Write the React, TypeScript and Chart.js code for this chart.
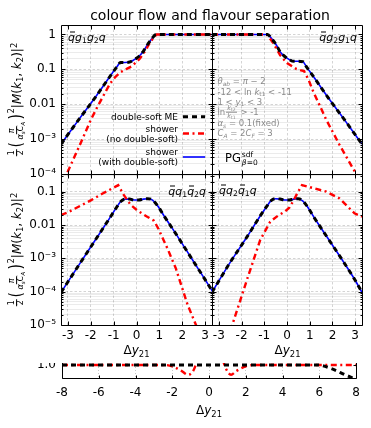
import React, { useEffect, useRef } from 'react';
import { Chart, registerables } from 'chart.js';
Chart.register(...registerables);

const FONT = "'DejaVu Sans', sans-serif";

// ---------- axes ----------
const panelXTicks = [-3, -2, -1, 0, 1, 2, 3];
const panelXMin = -3.3, panelXMax = 3.3;
const topYMajors = [1e-4, 1e-3, 0.01, 0.1, 1];
const topYLabels = ['10⁻⁴', '10⁻³', '0.01', '0.1', '1'];
const topYMin = 1e-4, topYMax = 1.87;
const botYMajors = [1e-5, 1e-4, 1e-3, 0.01, 0.1];
const botYLabels = ['10⁻⁵', '10⁻⁴', '10⁻³', '0.01', '0.1'];
const botYMin = 1e-5, botYMax = 0.34;
const stripXTicks = [-8, -6, -4, -2, 0, 2, 4, 6, 8];
const stripYTicks = [1.0];
const stripYLabels = ['1.0'];

// ---------- data: top-left  q̄ g1 g2 q ----------
const tlX = [-3.3, -2.5, -1.8, -1.2, -0.85, -0.7, -0.5, -0.3, -0.1, 0.1, 0.3, 0.47, 0.65, 0.86, 3.3];
const tlME = [7.2e-4, 3.8e-3, 0.0158, 0.0575, 0.12, 0.158, 0.158, 0.162, 0.19, 0.234, 0.33, 0.5, 0.724, 1, 1];
const tlPG = [7.2e-4, 3.8e-3, 0.0158, 0.0575, 0.12, 0.158, 0.158, 0.162, 0.19, 0.234, 0.33, 0.5, 0.724, 1, 1];
const tlShX = [-3.3, -3.05, -2.5, -2.0, -1.73, -1.5, -1.15, -0.93, -0.7, -0.45, -0.2, 0.15, 0.4, 0.6, 0.8, 0.88, 3.3];
const tlSh = [4.6e-5, 1e-4, 6.3e-4, 3.55e-3, 7.9e-3, 0.0151, 0.0398, 0.0603, 0.083, 0.102, 0.123, 0.204, 0.355, 0.603, 0.89, 1, 1];

// ---------- top-right  q̄ g2 g1 q ----------
const trX = [-3.3, -0.86, -0.65, -0.47, -0.3, -0.1, 0.1, 0.3, 0.5, 0.7, 0.85, 1.2, 1.8, 2.5, 3.3];
const trME = [1, 1, 0.724, 0.5, 0.316, 0.234, 0.19, 0.17, 0.17, 0.166, 0.12, 0.0575, 0.0158, 3.8e-3, 7.2e-4];
const trPG = [1, 1, 0.724, 0.5, 0.316, 0.234, 0.19, 0.17, 0.17, 0.166, 0.12, 0.0575, 0.0158, 3.8e-3, 7.2e-4];
const trShX = [-3.3, -0.88, -0.6, -0.3, 0, 0.42, 0.75, 0.95, 1.15, 1.45, 1.73, 2.3, 2.9, 3.05, 3.3];
const trSh = [1, 1, 0.562, 0.251, 0.151, 0.102, 0.089, 0.05, 0.0234, 8.9e-3, 3.55e-3, 7.1e-4, 1.45e-4, 1e-4, 5e-5];

// ---------- bottom-left  q̄ q1 q̄2 q ----------
const blX = [-3.3, -2.5, -1.8, -1.2, -0.9, -0.7, -0.5, -0.3, -0.1, 0.1, 0.3, 0.5, 0.7, 0.9, 1.2, 1.8, 2.5, 3.0, 3.33];
const blME = [9.5e-5, 6.6e-4, 3.55e-3, 0.0151, 0.0316, 0.05, 0.06, 0.06, 0.0562, 0.0562, 0.06, 0.0617, 0.0562, 0.0398, 0.019, 4.5e-3, 7.9e-4, 2.3e-4, 1e-4];
const blPG = [9.5e-5, 6.6e-4, 3.55e-3, 0.0151, 0.0316, 0.05, 0.06, 0.06, 0.0562, 0.0562, 0.06, 0.0617, 0.0562, 0.0398, 0.019, 4.5e-3, 7.9e-4, 2.3e-4, 1e-4];
const blShX = [-3.3, -3.0, -2.0, -1.5, -1.0, -0.8, -0.55, -0.25, 0.05, 0.45, 0.76, 0.95, 1.35, 1.72, 2.23, 2.6, 2.9];
const blSh = [0.02, 0.024, 0.055, 0.087, 0.132, 0.158, 0.079, 0.04, 0.027, 0.018, 0.0135, 7.9e-3, 2e-3, 5e-4, 4.1e-5, 1e-5, 3.2e-6];

// ---------- bottom-right  q̄ q2 q̄1 q ----------
const brX = [-3.3, -2.5, -1.8, -1.2, -0.9, -0.7, -0.5, -0.3, -0.1, 0.1, 0.3, 0.5, 0.7, 0.9, 1.2, 1.8, 2.5, 3.0, 3.3];
const brME = [9.6e-5, 7.6e-4, 4e-3, 0.0178, 0.0355, 0.054, 0.0617, 0.06, 0.0562, 0.0562, 0.06, 0.0617, 0.0525, 0.0355, 0.0166, 4e-3, 7.6e-4, 2.2e-4, 9.5e-5];
const brPG = [9.6e-5, 7.6e-4, 4e-3, 0.0178, 0.0355, 0.054, 0.0617, 0.06, 0.0562, 0.0562, 0.06, 0.0617, 0.0525, 0.0355, 0.0166, 4e-3, 7.6e-4, 2.2e-4, 9.5e-5];
const brShX = [-2.7, -2.41, -1.76, -1.18, -0.9, -0.74, -0.4, -0.1, 0.1, 0.3, 0.45, 0.66, 1.2, 1.73, 2.31, 2.97, 3.3];
const brSh = [2.5e-6, 1e-5, 2.3e-4, 3.55e-3, 7.9e-3, 0.0126, 0.019, 0.0251, 0.0331, 0.0562, 0.089, 0.158, 0.126, 0.1, 0.063, 0.0224, 0.0178];

// ---------- strip (ratio) ----------
const stripMEX = [-8, -4, 0, 4, 5.9, 6.7, 7.4, 8];
const stripME = [1, 1, 1, 1, 1, 0.97, 0.925, 0.89];
const stripShX = [-8, -2.4, -2.0, -1.5, -1.15, -0.75, -0.5, 0.5, 0.88, 1.2, 1.5, 2.0, 2.4, 8];
const stripSh = [1, 1, 0.99, 0.955, 0.925, 0.99, 1.15, 1.15, 0.985, 0.925, 0.955, 0.99, 1, 1];

// ---------- helpers ----------
const pts = (xs: number[], ys: number[]) => xs.map((x, i) => ({ x, y: ys[i] }));

function ds(kind: 'me' | 'sh' | 'pg', xs: number[], ys: number[]) {
  if (kind === 'me')
    return { data: pts(xs, ys), borderColor: '#000', borderWidth: 3, borderDash: [5, 4], cubicInterpolationMode: 'monotone', pointRadius: 0, clip: 0, fill: false };
  if (kind === 'sh')
    return { data: pts(xs, ys), borderColor: '#ff0000', borderWidth: 2.4, borderDash: [6, 3.5, 2, 3.5], tension: 0, pointRadius: 0, clip: 0, fill: false };
  return { data: pts(xs, ys), borderColor: '#0000ff', borderWidth: 1.6, cubicInterpolationMode: 'monotone', pointRadius: 0, clip: 0, fill: false };
}

const framePlugin = {
  id: 'frame',
  afterDraw(chart: any) {
    const o = chart.options.plugins.frame || { major: 4, minor: 2 };
    const { ctx, chartArea: a } = chart;
    const L = Math.round(a.left) + 0.5, R = Math.round(a.right) + 0.5;
    const T = Math.round(a.top) + 0.5, B = Math.round(a.bottom) + 0.5;
    const xs = chart.scales.x, ys = chart.scales.y;
    ctx.save();
    ctx.strokeStyle = '#000';
    ctx.lineWidth = 1;
    ctx.setLineDash([]);
    ctx.beginPath();
    for (const t of xs.ticks) {
      const p = Math.round(xs.getPixelForValue(t.value)) + 0.5;
      if (p < L - 0.1 || p > R + 0.1) continue;
      const len = t.major ? o.major : o.minor;
      ctx.moveTo(p, B); ctx.lineTo(p, B - len);
      ctx.moveTo(p, T); ctx.lineTo(p, T + len);
    }
    for (const t of ys.ticks) {
      const p = Math.round(ys.getPixelForValue(t.value)) + 0.5;
      if (p < T - 0.1 || p > B + 0.1) continue;
      const len = t.major ? o.major : o.minor;
      ctx.moveTo(L, p); ctx.lineTo(L + len, p);
      ctx.moveTo(R, p); ctx.lineTo(R - len, p);
    }
    ctx.rect(L, T, R - L, B - T);
    ctx.stroke();
    ctx.restore();
  },
};

type PanelCfg = {
  pad: { left: number; top: number; right: number; bottom: number };
  yW: number; xH: number; showX: boolean; showY: boolean;
  yMin: number; yMax: number; yMajors: number[]; yLabels: string[];
  datasets: any[];
};

function panelConfig(p: PanelCfg): any {
  const yTicks: any[] = [];
  p.yMajors.forEach((d) => {
    yTicks.push({ value: d, major: true });
    for (let k = 2; k <= 9; k++) {
      const v = d * k;
      if (v < p.yMax) yTicks.push({ value: v, major: false });
    }
  });
  return {
    type: 'line',
    data: { datasets: p.datasets },
    options: {
      responsive: false, animation: false, events: [],
      layout: { padding: p.pad },
      plugins: { legend: { display: false }, tooltip: { enabled: false }, frame: { major: 4, minor: 2 } },
      scales: {
        x: {
          type: 'linear', min: panelXMin, max: panelXMax, bounds: 'data',
          afterBuildTicks: (s: any) => { s.ticks = panelXTicks.map((v) => ({ value: v, major: true })); },
          afterFit: (s: any) => { s.height = p.xH; s.paddingLeft = 0; s.paddingRight = 0; },
          ticks: { display: p.showX, autoSkip: false, maxRotation: 0, padding: 4, color: '#000', font: { family: FONT, size: 12 }, callback: (v: any) => String(v) },
          grid: { drawTicks: false, color: 'rgba(0,0,0,0.17)', lineWidth: 1 },
          border: { display: false, dash: [2.5, 2] },
        },
        y: {
          type: 'logarithmic', min: p.yMin, max: p.yMax,
          afterBuildTicks: (s: any) => { s.ticks = yTicks.map((t) => ({ ...t })); },
          afterFit: (s: any) => { s.width = p.yW; s.paddingTop = 0; s.paddingBottom = 0; },
          ticks: {
            display: p.showY, autoSkip: false, padding: 5, color: '#000', font: { family: FONT, size: 12 },
            callback: (v: any, i: number, ticks: any[]) => {
              if (!ticks[i].major) return '';
              const j = p.yMajors.findIndex((m) => Math.abs(Math.log10(m) - Math.log10(v)) < 1e-6);
              return j >= 0 ? p.yLabels[j] : '';
            },
          },
          grid: {
            drawTicks: false, lineWidth: 1,
            color: (c: any) => (c.tick && c.tick.major ? 'rgba(0,0,0,0.17)' : 'rgba(0,0,0,0.08)'),
          },
          border: { display: false, dash: (c: any) => (c.tick && c.tick.major ? [2.5, 2] : []) },
        },
      },
    },
    plugins: [framePlugin],
  };
}

function stripConfig(): any {
  return {
    type: 'line',
    data: {
      datasets: [
        ds('me', stripMEX, stripME),
        { ...ds('sh', stripShX, stripSh), cubicInterpolationMode: 'monotone' },
      ],
    },
    options: {
      responsive: false, animation: false, events: [],
      layout: { padding: { left: 0, top: 12, right: 15, bottom: 0 } },
      plugins: { legend: { display: false }, tooltip: { enabled: false }, frame: { major: 3, minor: 2 } },
      scales: {
        x: {
          type: 'linear', min: -8, max: 8, bounds: 'data',
          afterBuildTicks: (s: any) => { s.ticks = stripXTicks.map((v) => ({ value: v, major: true })); },
          afterFit: (s: any) => { s.height = 50; s.paddingLeft = 0; s.paddingRight = 0; },
          ticks: { autoSkip: false, maxRotation: 0, padding: 8, color: '#000', font: { family: FONT, size: 12 }, callback: (v: any) => String(v) },
          grid: { drawTicks: false, color: 'rgba(0,0,0,0.22)', lineWidth: 1 },
          border: { display: false, dash: [1, 2] },
        },
        y: {
          type: 'linear', min: 0.9, max: 1.1,
          afterBuildTicks: (s: any) => { s.ticks = stripYTicks.map((v) => ({ value: v, major: true })); },
          afterFit: (s: any) => { s.width = 62; s.paddingTop = 0; s.paddingBottom = 0; },
          ticks: {
            autoSkip: false, padding: 6, color: '#000', font: { family: FONT, size: 12 },
            callback: (v: any, i: number) => stripYLabels[i] ?? '',
          },
          grid: { drawTicks: false, color: 'rgba(0,0,0,0)' },
          border: { display: false },
        },
      },
    },
    plugins: [framePlugin],
  };
}

function ChartCanvas({ make, w, h, style }: { make: () => any; w: number; h: number; style: React.CSSProperties }) {
  const ref = useRef<HTMLCanvasElement | null>(null);
  useEffect(() => {
    if (!ref.current) return;
    const c = new Chart(ref.current, make());
    return () => c.destroy();
  }, []);
  return <canvas ref={ref} width={w} height={h} style={{ position: 'absolute', width: w, height: h, ...style }} />;
}

// ---------- text helpers ----------
const Sb = ({ children, it = false }: any) => (
  <span style={{ fontSize: '0.7em', position: 'relative', top: '0.3em', lineHeight: 0, fontStyle: it ? 'italic' : 'normal' }}>{children}</span>
);
const Sp = ({ children }: any) => (
  <span style={{ fontSize: '0.7em', position: 'relative', top: '-0.45em', lineHeight: 0, fontStyle: 'normal' }}>{children}</span>
);
const Bar = ({ children }: any) => (
  <span style={{ position: 'relative', display: 'inline-block', lineHeight: 1 }}>
    {children}
    <span style={{ position: 'absolute', left: '0.2em', width: '0.42em', top: '0.04em', borderTop: '1px solid currentColor' }} />
  </span>
);
const Frac = ({ n, d, size }: any) => (
  <span style={{ display: 'inline-flex', flexDirection: 'column', alignItems: 'center', fontSize: size, lineHeight: 1.05, verticalAlign: 'middle', margin: '0 1px' }}>
    <span style={{ borderBottom: '0.8px solid currentColor', padding: '0 1px' }}>{n}</span>
    <span style={{ padding: '0 1px' }}>{d}</span>
  </span>
);

const abs = (s: React.CSSProperties): React.CSSProperties => ({ position: 'absolute', whiteSpace: 'nowrap', fontFamily: FONT, ...s });

function YLabel({ cy }: { cy: number }) {
  return (
    <div style={abs({ left: 17, top: cy, transform: 'translate(-50%,-50%) rotate(-90deg)', fontSize: 12, color: '#000', display: 'flex', alignItems: 'center', lineHeight: 1 })}>
      <Frac n="1" d="2" size={8} />
      <span style={{ fontSize: 17, lineHeight: 1, transform: 'scaleX(0.8)' }}>(</span>
      <Frac n={<i>π</i>} d={<span><i>α</i><Sb it>s</Sb><i>C</i><Sb it>A</Sb></span>} size={8} />
      <span style={{ fontSize: 17, lineHeight: 1, transform: 'scaleX(0.8)' }}>)</span>
      <span style={{ fontSize: 8, alignSelf: 'flex-start', marginTop: 0 }}>2</span>
      <span>|<i>M</i>(<i>k</i><Sb>1</Sb>, <i>k</i><Sb>2</Sb>)|<Sp>2</Sp></span>
    </div>
  );
}

const XLabel = ({ cx, cy }: { cx: number; cy: number }) => (
  <div style={abs({ left: cx, top: cy, transform: 'translate(-50%,-50%)', fontSize: 12, lineHeight: 1 })}>
    Δ<i>y</i><Sb>21</Sb>
  </div>
);

const W = 371, H = 428;

export default function App() {
  const panels: { key: string; cfg: PanelCfg }[] = [
    {
      key: 'tl',
      cfg: {
        pad: { left: 0, top: 25, right: W - 212, bottom: H - 174 }, yW: 61, xH: 0, showX: false, showY: true,
        yMin: topYMin, yMax: topYMax, yMajors: topYMajors, yLabels: topYLabels,
        datasets: [ds('me', tlX, tlME), ds('sh', tlShX, tlSh), ds('pg', tlX, tlPG)],
      },
    },
    {
      key: 'tr',
      cfg: {
        pad: { left: 212, top: 25, right: W - 362, bottom: H - 174 }, yW: 0, xH: 0, showX: false, showY: false,
        yMin: topYMin, yMax: topYMax, yMajors: topYMajors, yLabels: topYLabels,
        datasets: [ds('me', trX, trME), ds('sh', trShX, trSh), ds('pg', trX, trPG)],
      },
    },
    {
      key: 'bl',
      cfg: {
        pad: { left: 0, top: 174, right: W - 212, bottom: H - 362 }, yW: 61, xH: 37, showX: true, showY: true,
        yMin: botYMin, yMax: botYMax, yMajors: botYMajors, yLabels: botYLabels,
        datasets: [ds('me', blX, blME), ds('sh', blShX, blSh), ds('pg', blX, blPG)],
      },
    },
    {
      key: 'br',
      cfg: {
        pad: { left: 212, top: 174, right: W - 362, bottom: H - 362 }, yW: 0, xH: 37, showX: true, showY: false,
        yMin: botYMin, yMax: botYMax, yMajors: botYMajors, yLabels: botYLabels,
        datasets: [ds('me', brX, brME), ds('sh', brShX, brSh), ds('pg', brX, brPG)],
      },
    },
  ];

  const legendText: React.CSSProperties = { fontSize: 9, lineHeight: '10px', textAlign: 'right', color: '#000' };
  const gray: React.CSSProperties = { fontSize: 8.5, color: '#8a8a8a', lineHeight: 1 };

  return (
    <div style={{ position: 'absolute', left: 0, top: 0, width: W, height: H, background: '#fff', overflow: 'hidden', fontFamily: FONT }}>
      {panels.map((p) => (
        <ChartCanvas key={p.key} make={() => panelConfig(p.cfg)} w={W} h={H} style={{ left: 0, top: 0 }} />
      ))}

      {/* strip panel, upper part hidden */}
      <div style={{ position: 'absolute', left: 0, top: 363, width: W, height: H - 363, overflow: 'hidden' }}>
        <ChartCanvas make={stripConfig} w={W} h={88} style={{ left: 0, top: 340 - 363 }} />
      </div>

      {/* title */}
      <div style={abs({ left: 210, top: 14.5, transform: 'translate(-50%,-50%)', fontSize: 14, lineHeight: 1 })}>
        colour flow and flavour separation
      </div>

      <YLabel cy={99.5} />
      <YLabel cy={249.5} />

      <XLabel cx={136.5} cy={350} />
      <XLabel cx={287.5} cy={350} />
      <XLabel cx={209} cy={410} />

      {/* panel labels */}
      <div style={abs({ left: 68, top: 37, transform: 'translateY(-50%)', fontSize: 11, fontStyle: 'italic', lineHeight: 1 })}>
        <Bar>q</Bar>g<Sb>1</Sb>g<Sb>2</Sb>q
      </div>
      <div style={abs({ right: W - 357, top: 37, transform: 'translateY(-50%)', fontSize: 11, fontStyle: 'italic', lineHeight: 1 })}>
        <Bar>q</Bar>g<Sb>2</Sb>g<Sb>1</Sb>q
      </div>
      <div style={abs({ right: W - 206, top: 190.5, transform: 'translateY(-50%)', fontSize: 11, fontStyle: 'italic', lineHeight: 1 })}>
        <Bar>q</Bar>q<Sb>1</Sb><Bar>q</Bar><Sb>2</Sb>q
      </div>
      <div style={abs({ left: 219, top: 189.5, transform: 'translateY(-50%)', fontSize: 11, fontStyle: 'italic', lineHeight: 1 })}>
        <Bar>q</Bar>q<Sb>2</Sb><Bar>q</Bar><Sb>1</Sb>q
      </div>

      {/* legend */}
      <div style={abs({ right: W - 178, top: 116.7, transform: 'translateY(-50%)', ...legendText })}>double-soft ME</div>
      <div style={abs({ right: W - 178, top: 133.5, transform: 'translateY(-50%)', ...legendText })}>shower<br />(no double-soft)</div>
      <div style={abs({ right: W - 178, top: 156.8, transform: 'translateY(-50%)', ...legendText })}>shower<br />(with double-soft)</div>
      <svg width={W} height={H} style={{ position: 'absolute', left: 0, top: 0, pointerEvents: 'none' }}>
        <line x1={183} x2={205} y1={116.7} y2={116.7} stroke="#000" strokeWidth={3} strokeDasharray="5 4" />
        <line x1={183} x2={205} y1={133.5} y2={133.5} stroke="#ff0000" strokeWidth={2.4} strokeDasharray="6 3.5 2 3.5" />
        <line x1={183} x2={205} y1={157} y2={157} stroke="#0000ff" strokeWidth={1.6} />
      </svg>
      <div style={abs({ left: 225, top: 159, transform: 'translateY(-50%)', fontSize: 11.5, lineHeight: 1, display: 'flex', alignItems: 'center' })}>
        <span>PG</span>
        <span style={{ display: 'inline-flex', flexDirection: 'column', fontSize: 7.5, lineHeight: 1.05, marginLeft: 1 }}>
          <span>sdf</span>
          <span><i>β</i>=0</span>
        </span>
      </div>

      {/* parameters */}
      <div style={abs({ left: 217.5, top: 81, transform: 'translateY(-50%)', ...gray })}><i>θ</i><Sb it>ab</Sb> = <i>π</i> − 2</div>
      <div style={abs({ left: 217.5, top: 91.5, transform: 'translateY(-50%)', ...gray })}>-12 &lt; ln <i>k</i><Sb>t1</Sb> &lt; -11</div>
      <div style={abs({ left: 217.5, top: 101.5, transform: 'translateY(-50%)', ...gray })}>1 &lt; <i>y</i><Sb>1</Sb> &lt; 3</div>
      <div style={abs({ left: 217.5, top: 112, transform: 'translateY(-50%)', ...gray, display: 'flex', alignItems: 'center' })}>
        <span>ln</span>
        <Frac n={<span><i>k</i><Sb>t2</Sb></span>} d={<span><i>k</i><Sb>t1</Sb></span>} size={6.5} />
        <span>&nbsp;&gt; -1</span>
      </div>
      <div style={abs({ left: 217.5, top: 123, transform: 'translateY(-50%)', ...gray })}><i>α</i><Sb it>s</Sb> = 0.1(fixed)</div>
      <div style={abs({ left: 217.5, top: 133, transform: 'translateY(-50%)', ...gray })}><i>C</i><Sb it>A</Sb> = 2<i>C</i><Sb it>F</Sb> = 3</div>
    </div>
  );
}
